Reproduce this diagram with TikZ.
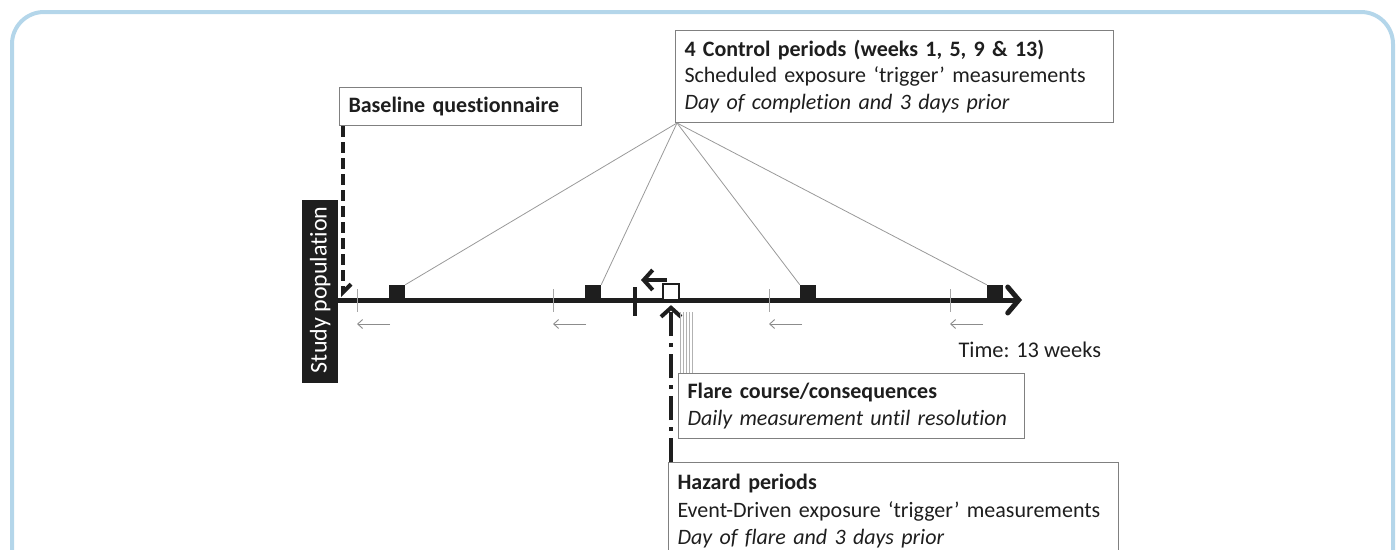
\documentclass[tikz,border=0pt]{standalone}
\usepackage{fontspec}
\setmainfont[Ligatures=NoCommon]{Carlito}
\usetikzlibrary{arrows.meta}
\definecolor{frameblue}{RGB}{180,214,234}
\definecolor{boxgray}{RGB}{128,128,128}
\definecolor{ink}{RGB}{30,30,30}
\tikzset{
  infobox/.style={draw=boxgray, line width=1pt, fill=white, anchor=north west,
    align=left, inner xsep=9pt, inner ysep=0pt, font=\fontsize{22}{26.5}\selectfont, text=ink},
  ctrlsq/.style={fill=ink, draw=none, minimum size=16pt, inner sep=0pt},
  pointer/.style={draw=gray!80, line width=0.8pt},
  backarrow/.style={draw=gray!90, line width=0.9pt, -{Straight Barb[length=5pt,width=9pt]}},
  tick/.style={draw=gray!70, line width=1pt},
}
\begin{document}
\begin{tikzpicture}[x=1pt,y=-1pt]
\useasboundingbox (0,0) rectangle (1397,549);
\begin{scope}
\clip (0,0) rectangle (1397,549);
\draw[frameblue, line width=4pt, rounded corners=32pt] (12,600) -- (12,12) -- (1393,12) -- (1393,600);
\end{scope}

% boxes
\node[infobox, minimum width=438pt, minimum height=92pt, text width=420pt] (ctrl) at (675,30)
  {\textbf{4 Control periods (weeks 1, 5, 9 \& 13)}\\Scheduled exposure ‘trigger’ measurements\\\textit{Day of completion and 3 days prior}};
\node[infobox, minimum width=242pt, minimum height=38pt, text width=224pt] (base) at (339,87)
  {\textbf{Baseline questionnaire}};
\node[infobox, minimum width=346pt, minimum height=65pt, text width=328pt] (flare) at (678,373)
  {\textbf{Flare course/consequences}\\\textit{Daily measurement until resolution}};
\node[infobox, minimum width=450pt, minimum height=98pt, text width=432pt, font=\fontsize{22}{27.5}\selectfont] (haz) at (668,462)
  {\textbf{Hazard periods}\\Event-Driven exposure ‘trigger’ measurements\\\textit{Day of flare and 3 days prior}};

% study population
\node[fill=ink, minimum width=36pt, minimum height=183pt, inner sep=0pt, anchor=north west] (pop) at (302,200) {};
\node[rotate=90, text=white, font=\fontsize{24}{26}\selectfont] (poplabel) at ([yshift=2pt]pop.center) {Study population};

% timeline
\coordinate (tstart) at (338,300);
\coordinate (tend) at (1022,300);
\draw[ink, line width=5pt, -{Straight Barb[length=11pt,width=26pt,line cap=round]}] (tstart) -- (tend);

% control squares
\node[ctrlsq] (c1) at (397,293) {};
\node[ctrlsq] (c2) at (593,293) {};
\node[ctrlsq] (c3) at (808,293) {};
\node[ctrlsq] (c4) at (995,293) {};

% ticks and back arrows
\foreach \tx/\n in {357/1,553/2,769/3,950/4}{
  \coordinate (tkA\n) at (\tx,289);
  \coordinate (tkB\n) at (\tx,312);
  \draw[tick] (tkA\n) -- (tkB\n);
  \coordinate (baS\n) at (\tx+33,324);
  \coordinate (baE\n) at (\tx,324);
  \draw[backarrow] (baS\n) -- (baE\n);
}

% pointer lines from control box
\coordinate (cp) at (677,123);
\draw[pointer] (cp) -- (c1.north east);
\draw[pointer] (cp) -- (c2.north east);
\draw[pointer] (cp) -- (c3.north west);
\draw[pointer] (cp) -- (c4.north west);

% baseline dashed arrow
\coordinate (bstart) at (343,126);
\coordinate (bend) at (343,297);
\draw[ink, line width=4pt, dash pattern=on 11pt off 5pt, -{Straight Barb[left,length=8pt,width=16pt]}] (bstart) -- (bend);

% hazard square
\node[draw=ink, fill=white, line width=2.2pt, minimum size=16pt, inner sep=0pt] (hsq) at (671,292) {};
% thick tick before hazard
\coordinate (htA) at (635,287);
\coordinate (htB) at (635,316);
\draw[ink, line width=3.5pt] (htA) -- (htB);
% left arrow above
\coordinate (hlS) at (667,280);
\coordinate (hlE) at (641,280);
\draw[ink, line width=4pt, -{Straight Barb[length=9pt,width=20pt]}] (hlS) -- (hlE);

% dash-dot arrow up from hazard box
\coordinate (hbot) at (haz.north west -| hsq.south);
\draw[ink, line width=4pt, dash pattern=on 24pt off 7pt on 4pt off 7pt, -{Straight Barb[length=9pt,width=20pt]}] (hbot) -- ([yshift=-4pt]hsq.south);

% flare course lines
\foreach \fx in {680,683,686,689,692}{
  \draw[draw=gray!60, line width=0.8pt] (\fx,312) -- (\fx,373);
}

% time label
\node[anchor=west, font=\fontsize{22.4}{24}\selectfont, text=ink] (time) at (955,350) {Time: 13 weeks};
\end{tikzpicture}
\end{document}
